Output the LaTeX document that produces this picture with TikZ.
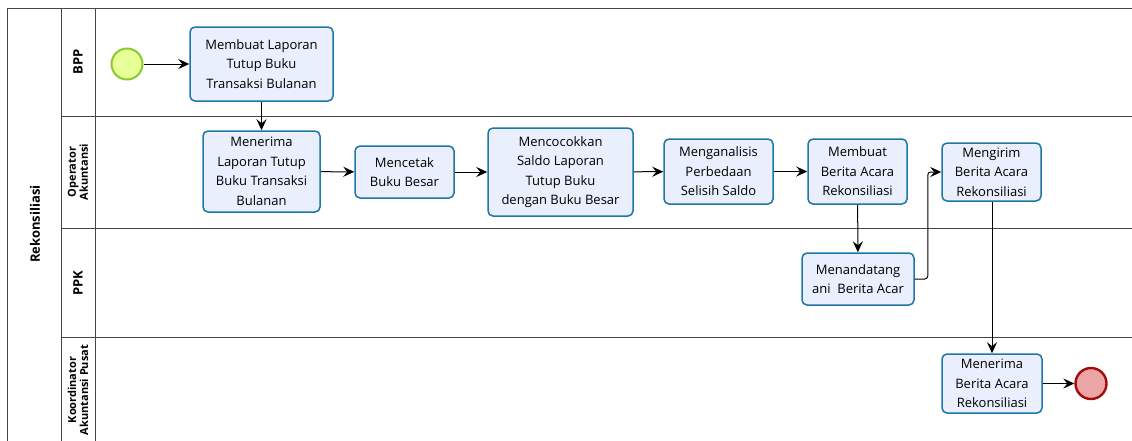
\documentclass[tikz,border=0pt]{standalone}
\usepackage{fontspec}
\setmainfont{Open Sans}
\usetikzlibrary{arrows.meta,positioning}
\definecolor{taskfill}{RGB}{234,239,253}
\definecolor{taskline}{RGB}{31,119,166}
\definecolor{startfill}{RGB}{230,255,151}
\definecolor{startline}{RGB}{140,200,50}
\definecolor{endfill}{RGB}{235,165,165}
\definecolor{endline}{RGB}{165,10,10}
\definecolor{laneline}{RGB}{70,70,70}

\begin{document}
\begin{tikzpicture}[x=1pt,y=-1pt,
  font=\fontsize{13}{19.5}\selectfont,
  task/.style={draw=taskline,fill=taskfill,line width=1.5pt,rounded corners=5pt,align=center,inner sep=1pt},
  flow/.style={-{Stealth[length=11pt,width=10pt,inset=4pt]},line width=1pt},
  lane/.style={draw=laneline,line width=0.8pt},
  lanelabel/.style={rotate=90,font=\bfseries\fontsize{11}{12}\selectfont,align=center}
]
\clip (0,0) rectangle (1132,440);
\fill[white] (0,0) rectangle (1132,440);
\draw[lane] (7,460) |- (1140,8);
\draw[lane] (61,8) -- (61,460);
\draw[lane] (95,8) -- (95,460);
\draw[lane] (61,116) -- (1140,116);
\draw[lane] (61,228) -- (1140,228);
\draw[lane] (61,337) -- (1140,337);

\node[rotate=90,font=\bfseries\fontsize{13}{15}\selectfont] (pool) at (35,224) {Rekonsiliasi};
\node[lanelabel,font=\bfseries\fontsize{13}{15}\selectfont] (bpp) at (78,62) {BPP};
\node[lanelabel] (opr) at (78,172) {Operator\\Akuntansi};
\node[lanelabel,font=\bfseries\fontsize{13}{15}\selectfont] (ppk) at (78,283) {PPK};
\node[lanelabel] (koord) at (78,390) {Koordinator\\Akuntansi Pusat};

\node[circle,draw=startline,fill=startfill,line width=2pt,minimum size=31pt] (start) at (127,64) {};
\node[task,minimum width=143pt,minimum height=74pt] (buat) at (261.5,64) {Membuat Laporan\\Tutup Buku\\Transaksi Bulanan};
\node[task,minimum width=117pt,minimum height=81pt] (terima) at (261.5,171.5) {Menerima\\Laporan Tutup\\Buku Transaksi\\Bulanan};
\node[task,minimum width=99pt,minimum height=52pt] (cetak) at (404.5,172) {Mencetak\\Buku Besar};
\node[task,minimum width=145pt,minimum height=88pt] (cocok) at (560.5,172) {Mencocokkan\\Saldo Laporan\\Tutup Buku\\dengan Buku Besar};
\node[task,minimum width=109pt,minimum height=65pt] (analisis) at (718.5,171.5) {Menganalisis\\Perbedaan\\Selisih Saldo};
\node[task,minimum width=99pt,minimum height=65pt] (berita) at (857.5,171.5) {Membuat\\Berita Acara\\Rekonsiliasi};
\node[task,minimum width=99pt,minimum height=58pt] (kirim) at (991.5,172) {Mengirim\\Berita Acara\\Rekonsiliasi};
\node[task,minimum width=112pt,minimum height=52pt] (ttd) at (858,279) {Menandatang\\ani~ Berita Acar};
\node[task,minimum width=100pt,minimum height=59pt] (terimaba) at (992,383.5) {Menerima\\Berita Acara\\Rekonsiliasi};
\node[circle,draw=endline,fill=endfill,line width=2.4pt,minimum size=31pt] (end) at (1091,383.5) {};

\draw[flow] (start) -- (buat);
\draw[flow] (buat) -- (terima);
\draw[flow] (terima) -- (cetak);
\draw[flow] (cetak) -- (cocok);
\draw[flow] (cocok) -- (analisis);
\draw[flow] (analisis) -- (berita);
\draw[flow] (berita) -- (ttd);
\draw[flow,rounded corners=3pt] (ttd.east) -- ++(13,0) |- (kirim.west);
\draw[flow] (kirim.south -| terimaba.north) -- (terimaba);
\draw[flow] (terimaba) -- (end);
\end{tikzpicture}
\end{document}
